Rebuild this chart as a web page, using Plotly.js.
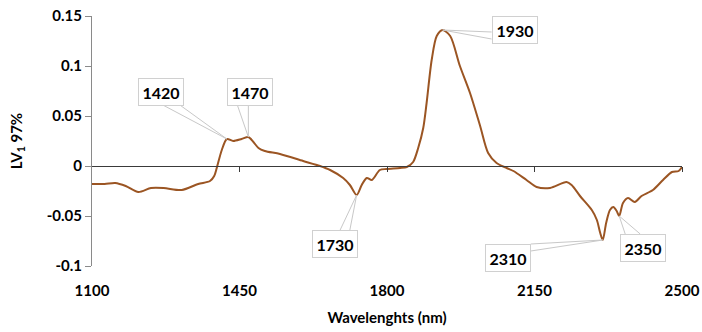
<!DOCTYPE html>
<html>
<head>
<meta charset="utf-8">
<script src="https://cdn.plot.ly/plotly-3.0.1.min.js"></script>
<style>html,body{margin:0;padding:0;background:#fff}#chart{width:702px;height:332px}</style>
</head>
<body>
<div id="chart"></div>
<script>
var wavelengths = [1100,1130,1155,1180,1210,1240,1270,1313,1352,1380,1390,1396,1408,1420,1435,1455,1471,1483,1495,1510,1546,1601,1641,1665,1696,1712,1728,1740,1752,1764,1783,1799,1831,1847,1862,1874,1886,1894,1906,1918,1932,1950,1973,1997,2021,2040,2060,2084,2100,2131,2155,2187,2226,2238,2258,2286,2298,2306,2312,2320,2329,2337,2345,2351,2360,2372,2388,2404,2431,2455,2476,2492,2500];
var lv1 = [-0.018,-0.018,-0.017,-0.020,-0.026,-0.022,-0.022,-0.024,-0.018,-0.015,-0.010,-0.002,0.016,0.027,0.025,0.027,0.029,0.024,0.018,0.015,0.012,0.005,0.000,-0.004,-0.012,-0.019,-0.029,-0.019,-0.012,-0.014,-0.004,-0.003,-0.002,-0.001,0.004,0.018,0.038,0.063,0.106,0.130,0.136,0.130,0.100,0.073,0.040,0.013,0.003,-0.002,-0.005,-0.014,-0.021,-0.022,-0.016,-0.019,-0.030,-0.044,-0.054,-0.067,-0.074,-0.057,-0.044,-0.041,-0.045,-0.050,-0.037,-0.032,-0.036,-0.030,-0.024,-0.014,-0.006,-0.005,-0.001];
var peakLabels = [1420,1470,1730,1930,2310,2350];
var xTickVals = [1100,1450,1800,2150,2500];
var xTickText = ['1100','1450','1800','2150','2500'];
var yTickVals = [-0.1,-0.05,0,0.05,0.1,0.15];
var yTickText = ['-0.1','-0.05','0','0.05','0.1','0.15'];

// label styling offsets (pixels): box centre offset and two wedge tails
var labelStyle = {
  1420: {bx:-66, by:-47, t:[[-64,-34],[-47,-34]]},
  1470: {bx:2,   by:-45, t:[[-11,-32],[0,-32]]},
  1730: {bx:-22, by:49,  t:[[-17,36],[-7,36]]},
  1930: {bx:72,  by:0,   t:[[49,2],[49,9]]},
  2310: {bx:-95, by:18,  t:[[-72,4],[-72,11]]},
  2350: {bx:24,  by:32,  t:[[6,18],[21,18]]}
};

function nearestIndex(w){
  var best=0;
  for(var i=0;i<wavelengths.length;i++){
    if(Math.abs(wavelengths[i]-w)<Math.abs(wavelengths[best]-w)) best=i;
  }
  return best;
}

var FONT = 'Lato, "Open Sans", sans-serif';
var annotations = [];
var shapes = [];
peakLabels.forEach(function(p){
  var i = nearestIndex(p);
  var s = labelStyle[p];
  s.t.forEach(function(t){
    shapes.push({type:'line', xref:'x', yref:'y', xsizemode:'pixel', ysizemode:'pixel',
      xanchor:wavelengths[i], yanchor:lv1[i], x0:0, y0:0, x1:t[0], y1:-t[1],
      line:{color:'#c8c8c8', width:1}, layer:'above'});
  });
  annotations.push({x:wavelengths[i], y:lv1[i], xref:'x', yref:'y', text:String(p),
    showarrow:false, xshift:s.bx, yshift:-s.by,
    bgcolor:'#ffffff', bordercolor:'#d0d0d0', borderwidth:1, borderpad:3,
    width:38, height:20,
    font:{family:FONT, size:16, color:'#000000', weight:'bold'}});
});

var traces = [
  {x:wavelengths, y:lv1, type:'scatter', mode:'lines',
   line:{color:'#9b5523', width:2, shape:'spline', smoothing:0.8},
   hoverinfo:'skip', showlegend:false, xaxis:'x', yaxis:'y'},
  {x:[], y:[], type:'scatter', mode:'lines', xaxis:'x2', yaxis:'y', showlegend:false, hoverinfo:'skip'}
];

var layout = {
  width:702, height:332,
  margin:{l:92, r:20, t:16, b:66},
  paper_bgcolor:'#ffffff', plot_bgcolor:'#ffffff',
  showlegend:false,
  font:{family:FONT, color:'#000000'},
  xaxis:{range:[1100,2500], tickvals:xTickVals, ticktext:xTickText,
    showline:false, ticks:'', showgrid:false, zeroline:false,
    ticklabelstandoff:14,
    tickfont:{family:FONT, size:15, color:'#000', weight:'bold'},
    title:{text:'Wavelenghts (nm)', standoff:14, font:{family:FONT, size:15, color:'#000', weight:'bold'}}},
  xaxis2:{range:[1100,2500], overlaying:'x', anchor:'free', position:0.4,
    tickvals:xTickVals.slice(1), showticklabels:false,
    showline:true, linecolor:'#3a3a3a', linewidth:1,
    ticks:'outside', ticklen:5, tickcolor:'#3a3a3a', showgrid:false, zeroline:false},
  yaxis:{range:[-0.1,0.15], tickvals:yTickVals, ticktext:yTickText,
    showline:true, linecolor:'#8a8a8a', linewidth:1,
    ticks:'outside', ticklen:6, tickcolor:'#8a8a8a',
    showgrid:false, zeroline:false,
    tickfont:{family:FONT, size:15, color:'#000', weight:'bold'},
    title:{text:'LV<sub>1</sub> 97%', standoff:20, font:{family:FONT, size:15, color:'#000', weight:'bold'}}},
  shapes:shapes,
  annotations:annotations
};

Plotly.newPlot('chart', traces, layout, {staticPlot:true, displayModeBar:false});
</script>
</body>
</html>
